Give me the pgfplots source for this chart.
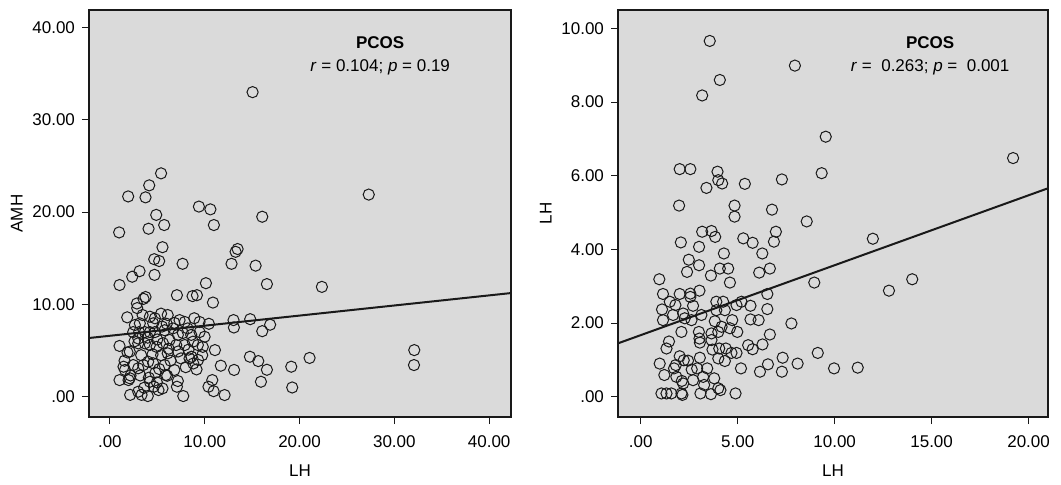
\documentclass[border=0pt]{standalone}
\usepackage{fontspec}
\setmainfont{Liberation Sans}
\usepackage{pgfplots}
\pgfplotsset{compat=1.18}
\definecolor{panel}{RGB}{218,218,218}
\definecolor{ink}{RGB}{25,25,25}

% 1 px of the reference = 0.5pt
\pgfplotsset{
  spss/.style={
    scale only axis,
    height=203.5pt,
    axis background/.style={fill=panel},
    axis line style={ink, line width=0.6pt},
    tick style={ink, line width=0.5pt},
    tick align=outside,
    xtick pos=bottom, ytick pos=left,
    major tick length=3.5pt,
    font=\fontsize{8.5}{10}\selectfont,
    /pgf/number format/assume math mode=true,
    xticklabel style={yshift=-2.5pt},
    xlabel style={yshift=-1.5pt},
    ylabel style={yshift=-2pt},
    xlabel=LH,
  },
  dots/.style={only marks, mark=o, mark size=2.8pt,
    mark options={ink, line width=0.5pt}},
  fit/.style={no marks, ink, line width=1pt},
}

\begin{document}
\begin{tikzpicture}
\path[use as bounding box] (-44.5pt,-33.5pt) rectangle (486pt,208.5pt);

% left panel: AMH vs LH
\begin{axis}[spss,
  width=211pt,
  xmin=-2.2, xmax=42.3, ymin=-2.2, ymax=41.9,
  xtick={0,10,20,30,40}, xticklabels={.00,10.00,20.00,30.00,40.00},
  ytick={0,10,20,30,40}, yticklabels={.00,10.00,20.00,30.00,40.00},
  ylabel=AMH,
]
\addplot[dots] coordinates {
(15.05,33.0)(27.3,21.9)(5.4,24.2)(4.15,22.9)(1.93,21.7)(3.76,21.6)(9.39,20.6)(10.6,20.3)
(4.89,19.7)(16.07,19.5)(0.98,17.8)(4.08,18.2)(5.73,18.6)(10.97,18.6)(5.55,16.2)(13.47,16.0)
(13.26,15.7)(4.68,14.9)(5.2,14.7)(7.67,14.4)(12.83,14.4)(15.37,14.2)(3.13,13.6)(2.36,13.0)
(4.71,13.2)(1.02,12.1)(10.13,12.3)(16.56,12.2)(22.36,11.9)(7.07,11.0)(8.72,10.9)(9.18,11.0)
(10.87,10.2)(3.76,10.8)(3.55,10.6)(2.85,10.1)(2.88,9.6)(1.83,8.6)(13.04,8.3)(14.8,8.4)
(13.08,7.5)(10.44,7.9)(16.9,7.8)(16.07,7.1)(32.1,5.05)(32.07,3.43)
(1.02,5.5)(1.86,4.8)(1.55,3.9)(1.44,3.25)(1.6,2.9)(1.02,1.8)(1.97,1.8)(2.18,2.3)
(2.14,0.2)(2.99,0.54)(3.62,0.97)(4.11,2.06)(4.0,0.07)(4.64,1.08)(5.13,0.72)(5.55,0.9)
(4.96,1.55)(6.05,2.27)(7.17,1.7)(7.07,1.08)(7.74,0.07)(12.1,0.18)(10.94,0.6)(10.8,1.8)
(10.4,1.08)(11.7,3.36)(13.1,2.9)(14.77,4.33)(15.65,3.86)(16.56,2.92)(15.93,1.62)(19.13,3.25)
(19.23,1.0)(21.06,4.2)(11.08,5.05)(9.74,4.5)(9.14,2.96)(8.8,3.6)(8.4,4.15)
(4.22,8.67)(3.45,8.85)(4.75,8.5)(2.64,7.77)(3.16,7.95)(2.46,7.0)(3.09,7.0)(3.69,7.0)
(4.22,7.0)(4.75,7.0)(4.57,7.95)(2.1,4.88)(2.99,5.78)(3.69,5.78)(4.22,5.6)(4.93,5.4)
(2.46,3.43)(2.99,3.08)(3.52,3.43)(4.04,3.79)(4.57,3.62)(2.1,2.0)(4.22,1.62)(3.34,0.2)
(5.4,9.0)(6.1,8.85)(7.35,8.3)(7.9,8.1)(8.9,8.5)(9.46,8.1)(5.77,7.2)(6.65,7.4)
(7.17,6.7)(7.7,6.9)(8.58,6.7)(9.46,7.0)(9.99,6.5)(5.6,5.8)(6.3,6.15)(7.0,5.6)
(7.9,5.6)(8.76,5.96)(9.28,5.6)(9.8,5.4)(5.4,4.5)(6.1,4.7)(7.5,4.15)(8.6,4.33)
(9.3,3.98)(5.77,3.43)(6.8,2.9)(5.9,2.35)
(3.0,6.3)(4.0,6.4)(5.0,6.2)(6.0,7.9)(6.8,8.0)(8.2,7.4)(5.2,3.0)(6.4,3.9)
(3.3,4.5)(4.5,4.6)(8.0,3.2)(7.2,4.9)(2.6,6.0)(5.5,7.6)(6.2,5.2)(8.3,5.1)
(4.8,2.6)(3.2,2.3)
};
\addplot[fit] coordinates {(-2.2,6.36) (42.3,11.23)};
\node[font=\fontsize{8.5}{10}\selectfont\bfseries] at (rel axis cs:0.69,0.919) {PCOS};
\node at (rel axis cs:0.69,0.86) {\textit{r} = 0.104; \textit{p} = 0.19};
\end{axis}

% right panel: LH vs LH
\begin{axis}[spss,
  at={(264.5pt,0pt)},
  width=215pt,
  xmin=-1.17, xmax=21.0, ymin=-0.55, ymax=10.5,
  xtick={0,5,10,15,20}, xticklabels={.00,5.00,10.00,15.00,20.00},
  ytick={0,2,4,6,8,10}, yticklabels={.00,2.00,4.00,6.00,8.00,10.00},
  ylabel=LH,
]
\addplot[dots] coordinates {
(3.56,9.66)(7.95,8.99)(4.08,8.6)(3.17,8.18)(9.54,7.06)(19.2,6.48)(2.01,6.18)(2.56,6.18)
(3.96,6.11)(4.0,5.88)(4.2,5.79)(3.39,5.67)(5.37,5.78)(7.28,5.9)(9.33,6.07)(1.98,5.19)
(4.84,5.19)(4.84,4.89)(6.77,5.08)(8.56,4.76)(3.17,4.48)(3.65,4.5)(3.84,4.34)(5.29,4.3)
(5.77,4.18)(6.97,4.48)(6.87,4.21)(11.97,4.29)(2.07,4.19)(3.01,4.07)(4.29,3.89)(6.27,3.89)
(2.48,3.72)(3.01,3.57)(2.39,3.39)(4.08,3.48)(4.51,3.48)(6.66,3.48)(6.11,3.37)(3.62,3.29)
(4.6,3.1)(8.95,3.1)(14.0,3.19)(12.8,2.88)(0.96,3.19)(1.15,2.79)(2.01,2.79)(2.56,2.8)
(2.56,2.71)(3.03,2.88)(6.53,2.79)(1.5,2.58)(1.79,2.49)(2.7,2.47)(1.1,2.37)(1.15,2.08)
(1.67,2.22)(2.19,2.26)(2.27,2.13)(3.13,2.22)(3.9,2.58)(4.25,2.58)(3.9,2.35)(4.34,2.35)
(4.94,2.49)(5.2,2.58)(5.66,2.47)(6.53,2.38)(2.62,2.08)(3.82,2.05)(4.72,2.08)(5.66,2.1)
(6.08,2.08)(7.77,1.99)(2.1,1.76)(3.0,1.76)(3.03,1.58)(3.05,1.47)(3.65,1.72)(3.65,1.54)
(4.0,1.76)(4.17,1.9)(4.6,1.86)(4.98,1.76)(6.66,1.69)(1.46,1.5)(1.33,1.31)(3.7,1.28)
(4.05,1.31)(4.39,1.31)(4.68,1.19)(4.94,1.19)(5.54,1.4)(5.77,1.29)(6.28,1.42)(9.13,1.19)
(2.01,1.1)(3.05,1.06)(2.22,0.99)(2.44,0.98)(0.98,0.9)(1.81,0.86)(1.72,0.77)(2.63,0.74)
(2.91,0.77)(3.43,0.77)(4.0,1.04)(4.34,0.97)(5.17,0.77)(6.56,0.88)(7.32,1.06)(7.28,0.68)
(8.09,0.9)(6.15,0.68)(9.97,0.77)(11.19,0.79)(1.22,0.59)(1.84,0.54)(2.12,0.43)(2.19,0.36)
(2.7,0.45)(3.22,0.54)(3.27,0.32)(3.79,0.5)(4.0,0.23)(4.11,0.18)(1.07,0.09)(1.33,0.09)
(1.58,0.09)(2.1,0.09)(2.15,0.05)(3.08,0.09)(3.62,0.07)(4.89,0.09)
};
\addplot[fit] coordinates {(-1.17,1.45) (21.0,5.66)};
\node[font=\fontsize{8.5}{10}\selectfont\bfseries] at (rel axis cs:0.726,0.919) {PCOS};
\node at (rel axis cs:0.726,0.86) {\textit{r} =\ \ 0.263; \textit{p} =\ \ 0.001};
\end{axis}
\end{tikzpicture}
\end{document}
